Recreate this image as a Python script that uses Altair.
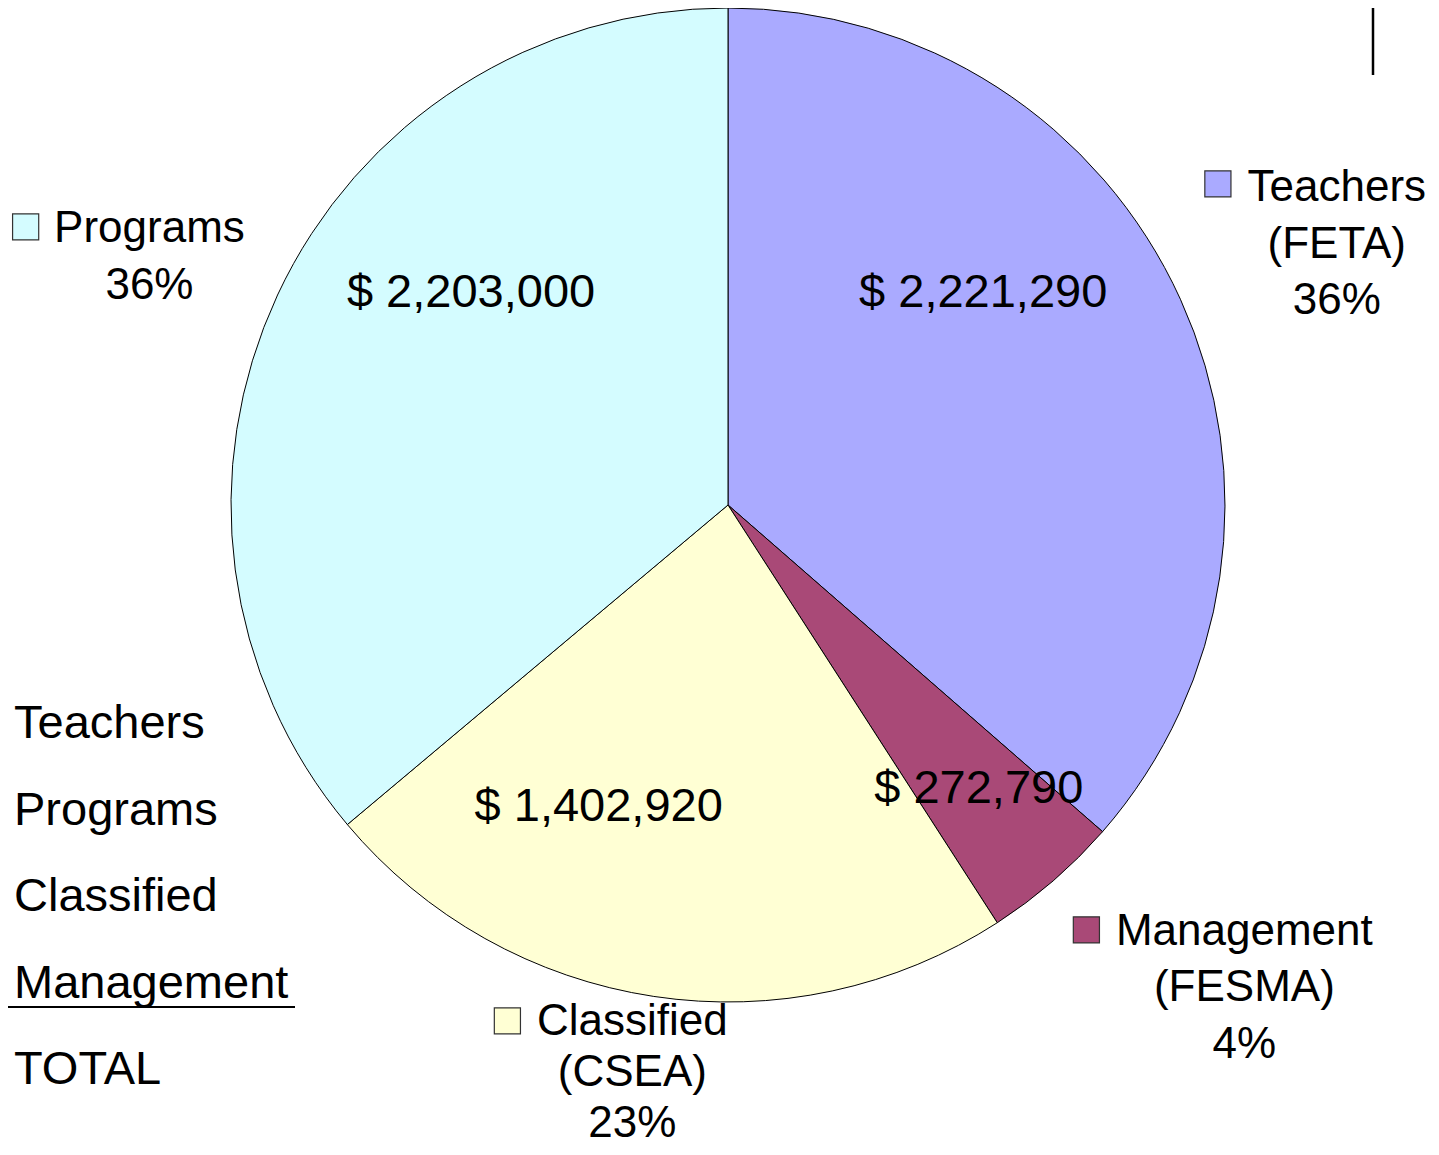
import altair as alt
import pandas as pd

# ---------------- data ----------------
categories = ["Teachers", "Management", "Classified", "Programs"]
groups = ["(FETA)", "(FESMA)", "(CSEA)", ""]
amounts = [2221290, 272790, 1402920, 2203000]
percent_labels = ["36%", "4%", "23%", "36%"]
slice_colors = ["#AAAAFF", "#A94977", "#FFFFD4", "#D4FCFF"]
left_items = ["Teachers", "Programs", "Classified", "Management", "TOTAL"]

total = sum(amounts)


def money(v):
    return "$ " + f"{v:,}"


cat_text = []
for c, g, p in zip(categories, groups, percent_labels):
    lines = [c] + ([g] if g else []) + [p]
    cat_text.append("\n".join(lines))

df = pd.DataFrame({
    "cat": categories,
    "amount": amounts,
    "idx": list(range(len(categories))),
    "value_label": [money(v) for v in amounts],
    "cat_label": cat_text,
    "box": ["\u25A0"] * len(categories),
})
left_df = pd.DataFrame({"item": left_items})

FONT = "Liberation Sans"
PIE_R = 497
VAL_R = 310
CAT_R = 560

theta_scale = alt.Scale(domain=[0, total])
color_enc = alt.Color("cat:N", scale=alt.Scale(domain=categories, range=slice_colors), legend=None)

pie = alt.Chart(df).mark_arc(radius=PIE_R, stroke="black", strokeWidth=1).encode(
    theta=alt.Theta("amount:Q", stack=True, scale=theta_scale),
    order=alt.Order("idx:Q"),
    color=color_enc,
)


def placed(cat):
    return (
        alt.Chart(df)
        .transform_window(cum="sum(amount)", sort=[alt.SortField("idx")], frame=[None, 0])
        .transform_calculate(mid="datum.cum - datum.amount / 2")
        .transform_filter(alt.datum.cat == cat)
    )


# label nudges (layout only)
value_nudge = {"Teachers": (-27, -70), "Management": (48, 64), "Classified": (-83, 9), "Programs": (24, -67)}
cat_nudge = {"Teachers": (99, -72), "Management": (150, 16), "Classified": (-12, -24), "Programs": (-71, -26)}
cat_line_h = {"Teachers": 56.5, "Management": 56.5, "Classified": 51, "Programs": 56.5}
box_nudge = {"Teachers": (-36, -73), "Management": (-24, 17), "Classified": (-153, -22), "Programs": (-211, -25)}

layers = [pie]
for c in categories:
    dx, dy = value_nudge[c]
    layers.append(
        placed(c).mark_text(radius=VAL_R, dx=dx, dy=dy, fontSize=47, font=FONT,
                            align="center", baseline="alphabetic", color="black")
        .encode(theta=alt.Theta("mid:Q", scale=theta_scale), text="value_label:N")
    )
    dx, dy = cat_nudge[c]
    layers.append(
        placed(c).mark_text(radius=CAT_R, dx=dx, dy=dy, fontSize=44, font=FONT, lineBreak="\n",
                            lineHeight=cat_line_h[c], align="center", baseline="alphabetic", color="black")
        .encode(theta=alt.Theta("mid:Q", scale=theta_scale), text="cat_label:N")
    )
    dx, dy = box_nudge[c]
    layers.append(
        placed(c).mark_text(radius=CAT_R, dx=dx, dy=dy, fontSize=54, font=FONT,
                            align="left", baseline="alphabetic", stroke="#333333", strokeWidth=1.2)
        .encode(theta=alt.Theta("mid:Q", scale=theta_scale), text="box:N", color=color_enc)
    )

left_list = alt.Chart(left_df).mark_text(
    align="left", baseline="alphabetic", fontSize=47, font=FONT, color="black", x=-14
).encode(
    y=alt.Y("item:N", scale=alt.Scale(domain=left_items, range=[730, 1076], padding=0), axis=None),
    text="item:N",
)
layers.append(left_list)

deco = pd.DataFrame({"k": [0]})
underline = alt.Chart(deco).mark_rule(color="black", strokeWidth=2).encode(
    x=alt.value(-28), x2=alt.value(267), y=alt.value(999)
)
vline = alt.Chart(deco).mark_rule(color="black", strokeWidth=2.5).encode(
    x=alt.value(1345), y=alt.value(-8), y2=alt.value(67)
)
layers += [underline, vline]

chart = alt.layer(*layers).properties(
    width=1400,
    height=994,
    autosize=alt.AutoSizeParams(type="none"),
    padding={"left": 20, "top": 0, "right": 3, "bottom": 139},
).configure_view(stroke=None)

chart.save("out.html", embed_options={"renderer": "svg", "actions": False})
